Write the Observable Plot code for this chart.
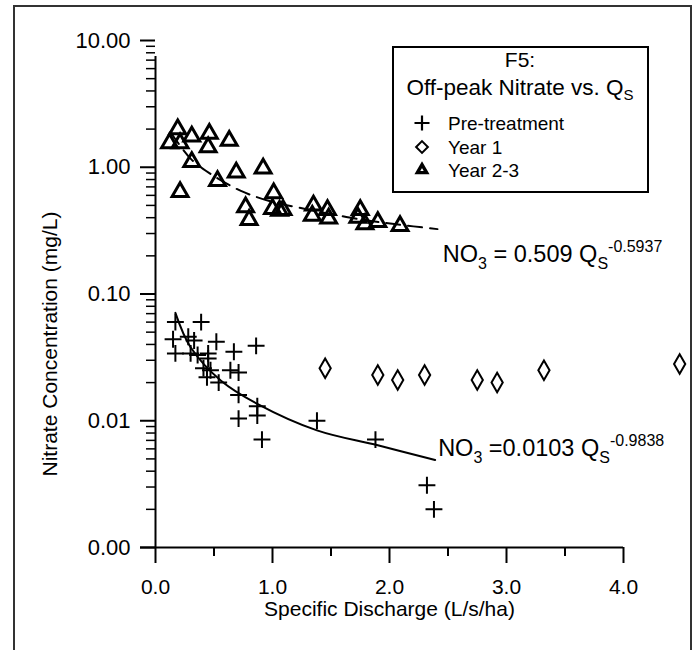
<!DOCTYPE html>
<html><head><meta charset="utf-8">
<script src="https://cdn.jsdelivr.net/npm/d3@7"></script>
<script src="https://cdn.jsdelivr.net/npm/@observablehq/plot@0.6"></script>
<style>body{margin:0;background:#fff} svg{display:block}</style>
</head><body><div id="chart"></div>
<script>
const FONT = "'Liberation Sans', Arial, Helvetica, sans-serif";

// Pre-treatment
const preX = [0.17,0.39,0.15,0.28,0.33,0.17,0.30,0.36,0.45,0.52,0.67,0.86,0.45,0.41,0.47,0.44,0.54,0.64,0.71,0.71,0.87,0.71,0.87,0.91,1.38,1.88,2.32,2.38];
const preY = [0.060,0.060,0.044,0.046,0.043,0.034,0.034,0.033,0.034,0.042,0.035,0.039,0.031,0.026,0.025,0.022,0.020,0.025,0.024,0.016,0.013,0.0104,0.011,0.0071,0.0100,0.0071,0.0031,0.0020];
// Year 1
const yr1X = [1.45,1.90,2.07,2.30,2.75,2.92,3.32,4.48];
const yr1Y = [0.026,0.023,0.021,0.023,0.021,0.020,0.025,0.028];
// Year 2-3
const yr23X = [0.19,0.12,0.21,0.31,0.46,0.45,0.63,0.31,0.21,0.53,0.69,0.92,1.01,0.77,0.80,1.00,1.06,1.09,1.35,1.34,1.47,1.48,1.75,1.73,1.79,1.90,2.09];
const yr23Y = [2.00,1.55,1.55,1.75,1.84,1.44,1.62,1.10,0.64,0.78,0.91,0.98,0.625,0.485,0.385,0.47,0.455,0.46,0.50,0.415,0.46,0.395,0.46,0.40,0.355,0.37,0.345];
// fitted curves
const dashX = [0.13,0.30,0.46,0.73,0.98,1.30,1.58,1.84,2.04,2.41];
const dashY = [1.88,1.17,0.90,0.65,0.54,0.465,0.413,0.377,0.356,0.325];
const solidX = [0.17,0.30,0.56,0.87,1.38,1.90,2.39];
const solidY = [0.071,0.038,0.0207,0.0136,0.0084,0.0064,0.0049];
// ticks
const yTicks = [0.001,0.01,0.1,1,10];
const yTickLabels = ["0.00","0.01","0.10","1.00","10.00"];
const yMinor = [0.001,0.01,0.1,1].flatMap(d => [2,3,4,5,6,7,8,9].map(k => +(d*k).toPrecision(3)));
const xTicks = [0,1,2,3,4];
const xTickLabels = ["0.0","1.0","2.0","3.0","4.0"];
const xMinor = [0.5,1.5,2.5,3.5];
// texts
const xTitle = "Specific Discharge (L/s/ha)";
const yTitle = "Nitrate Concentration (mg/L)";
const legendTitle1 = "F5:";
const legendTitle2 = ["Off-peak Nitrate vs. Q", "S"];
const seriesNames = ["Pre-treatment", "Year 1", "Year 2-3"];
const eqX = [2.46, 2.42];
const eqY = [0.207, 0.0061];
const eqParts = [["NO", "3", " = 0.509 Q", "S", "-0.5937"], ["NO", "3", " =0.0103 Q", "S", "-0.9838"]];

const pre = preX.map((x,i)=>({x, y: preY[i]}));
const yr1 = yr1X.map((x,i)=>({x, y: yr1Y[i]}));
const yr23 = yr23X.map((x,i)=>({x, y: yr23Y[i]}));
const dash = dashX.map((x,i)=>({x, y: dashY[i]}));
const solid = solidX.map((x,i)=>({x, y: solidY[i]}));

function frameMark() {
  const g = d3.create("svg:g");
  g.append("rect").attr("x",14).attr("y",6).attr("width",677).attr("height",700)
    .attr("fill","none").attr("stroke","#333").attr("stroke-width",2);
  return g.node();
}

function equations(index, scales) {
  const g = d3.create("svg:g").attr("font-family", FONT).attr("fill","black").attr("text-anchor","start");
  eqParts.forEach((p, i) => {
    const t = g.append("text").attr("x", scales.x(eqX[i])).attr("y", scales.y(eqY[i])).attr("font-size", 23.5).attr("dy","0.35em").attr("text-anchor","start");
    t.append("tspan").text(p[0]);
    t.append("tspan").attr("font-size",16).attr("dy",7).text(p[1]);
    t.append("tspan").attr("dy",-7).text(p[2]);
    t.append("tspan").attr("font-size",16).attr("dy",7).text(p[3]);
    t.append("tspan").attr("font-size",16).attr("dy",-17).text(p[4]);
  });
  return g.node();
}

function symbolPath(type, r) {
  return d3.symbol(type, r*r*Math.PI)();
}

function legend() {
  const g = d3.create("svg:g").attr("font-family", FONT).attr("fill","black");
  g.append("rect").attr("x",393).attr("y",47).attr("width",255).attr("height",145)
    .attr("fill","white").attr("stroke","black").attr("stroke-width",2);
  g.append("text").attr("x",520).attr("y",60).attr("dy","0.35em").attr("text-anchor","middle").attr("font-size",21).text(legendTitle1);
  const t2 = g.append("text").attr("x",520).attr("y",87).attr("dy","0.35em").attr("text-anchor","middle").attr("font-size",22.5);
  t2.append("tspan").text(legendTitle2[0]);
  t2.append("tspan").attr("font-size",15).attr("dy",5).text(legendTitle2[1]);
  const rows = [123, 147, 170];
  const syms = [[d3.symbolPlus, 4.9, 2.2], [d3.symbolDiamond2, 5.3, 2], [d3.symbolTriangle2, 4.4, 3.4]];
  rows.forEach((y, i) => {
    g.append("path").attr("transform", `translate(422,${y})`).attr("d", symbolPath(syms[i][0], syms[i][1]))
      .attr("fill","none").attr("stroke","black").attr("stroke-width", syms[i][2]);
    g.append("text").attr("x",448).attr("y",y).attr("dy","0.35em").attr("text-anchor","start").attr("font-size",19).text(seriesNames[i]);
  });
  return g.node();
}

const chart = Plot.plot({
  width: 699, height: 650,
  marginLeft: 155, marginRight: 76, marginTop: 40, marginBottom: 103,
  style: {fontFamily: FONT, fontSize: "21px", background: "white", color: "black"},
  x: {domain: [0, 4]},
  y: {type: "log", domain: [0.001, 10]},
  marks: [
    frameMark,
    Plot.axisY({ticks: yMinor, tickSize: 9, text: null, strokeWidth: 1.5, label: null}),
    Plot.axisY({ticks: yTicks, tickSize: 15, tickPadding: 10, strokeWidth: 2, fontSize: 22, tickFormat: d => yTickLabels[yTicks.indexOf(d)], label: null}),
    Plot.axisX({ticks: xMinor, tickSize: 9, text: null, strokeWidth: 2, label: null}),
    Plot.axisX({ticks: xTicks, tickSize: 16, tickPadding: 16, strokeWidth: 2, tickFormat: d => xTickLabels[xTicks.indexOf(d)], label: null}),
    Plot.ruleX([0], {y1: 0.001, y2: 10, insetBottom: -16, strokeWidth: 2}),
    Plot.ruleY([0.001], {x1: 0, x2: 4, insetLeft: -15, strokeWidth: 2}),
    Plot.text([xTitle], {frameAnchor: "bottom", dy: 68, text: d => d, fontSize: 21, textAnchor: "middle"}),
    Plot.text([yTitle], {frameAnchor: "left", dx: -105, dy: 50, rotate: -90, text: d => d, fontSize: 21, textAnchor: "middle"}),
    Plot.line(dash, {x: "x", y: "y", curve: "catmull-rom", stroke: "black", strokeWidth: 2, strokeDasharray: "14,8"}),
    Plot.line(solid, {x: "x", y: "y", curve: "catmull-rom", stroke: "black", strokeWidth: 2}),
    Plot.dot(pre, {x: "x", y: "y", symbol: "plus", r: 5.5, stroke: "black", strokeWidth: 2}),
    Plot.dot(yr1, {x: "x", y: "y", symbol: "diamond", r: 5.9, stroke: "black", strokeWidth: 2}),
    Plot.dot(yr23, {x: "x", y: "y", symbol: "triangle", r: 5.9, stroke: "black", strokeWidth: 3}),
    equations,
    legend
  ]
});
document.getElementById("chart").appendChild(chart);
</script>
</body></html>
